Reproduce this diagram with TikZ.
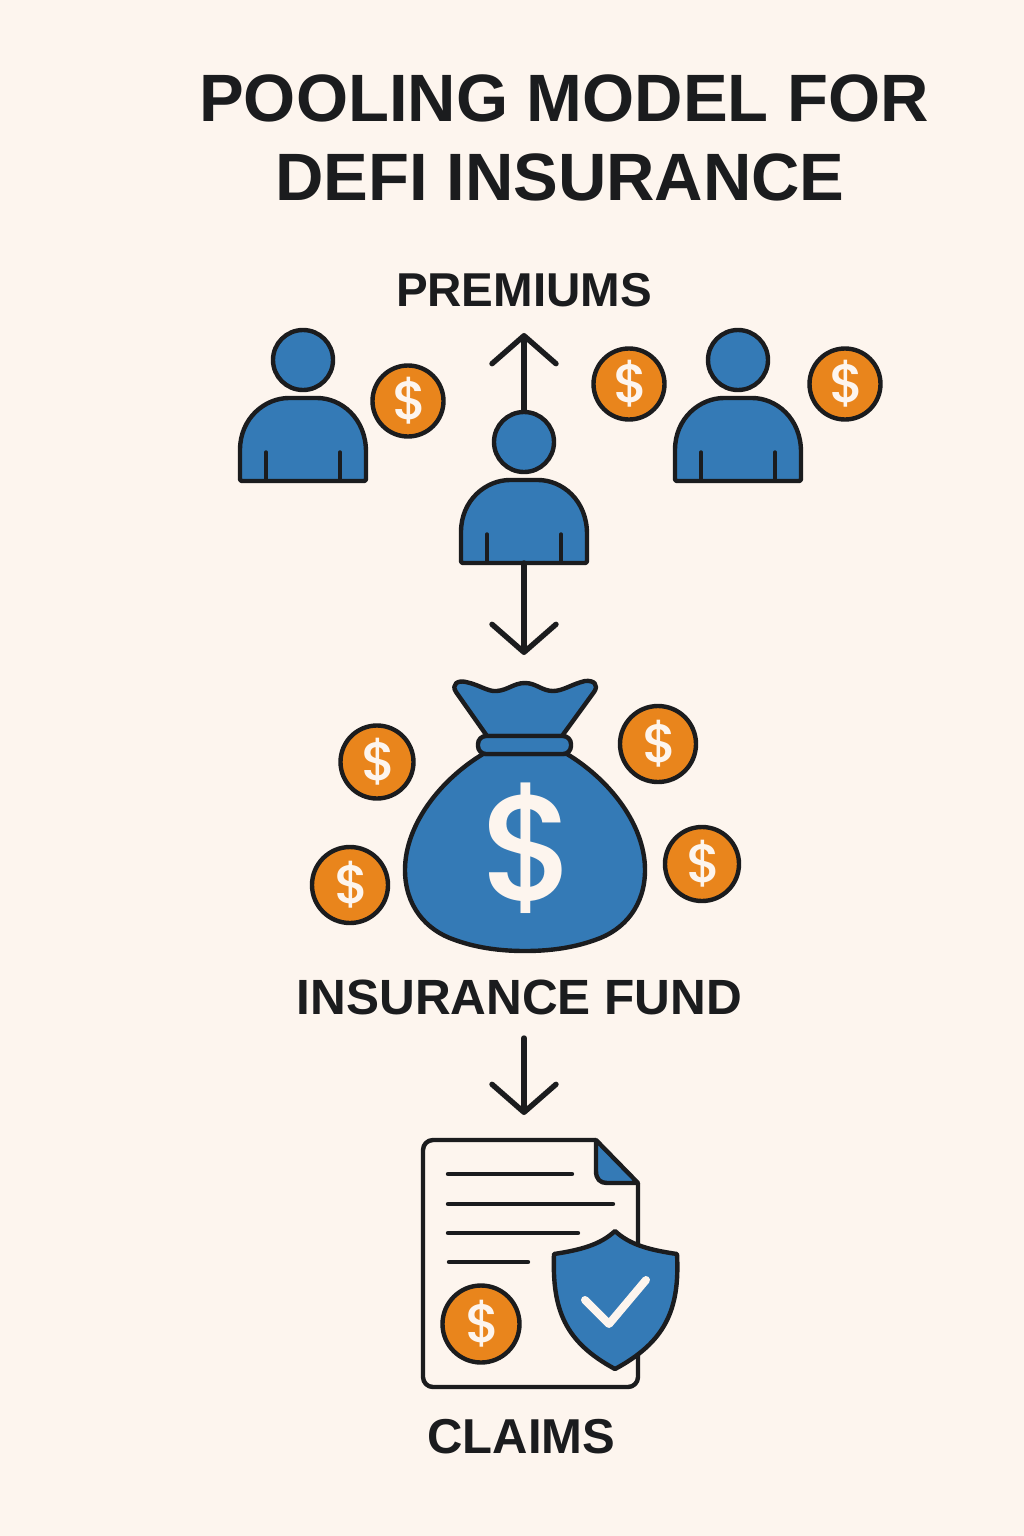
\documentclass[tikz,border=0pt]{standalone}
\usepackage{fontspec}
\setmainfont{Liberation Sans}
\newfontfamily\dollarfont[UprightFont = * Medium]{Poppins}
\usetikzlibrary{arrows.meta}

\definecolor{paper}{HTML}{FDF5EE}
\definecolor{ink}{HTML}{1B1C1E}
\definecolor{fundblue}{HTML}{347AB6}
\definecolor{coinorange}{HTML}{E9851C}

\tikzset{
  outline/.style = {draw = ink, line width = 4.4pt, line join = round},
  head/.style = {outline, shape = circle, fill = fundblue, minimum size = 60pt, inner sep = 0pt},
  coin/.style = {outline, shape = circle, fill = coinorange, minimum size = #1, inner sep = 0pt,
    text = paper, font = \dollarfont\fontsize{54pt}{54pt}\selectfont},
  heading/.style = {anchor = base, text = ink, font = \fontsize{#1}{#1}\selectfont\bfseries},
  flow/.style = {draw = ink, line width = 5.4pt, line cap = round,
    -{Straight Barb[length = 28pt, width = 64pt, round]}},
  textline/.style = {draw = ink, line width = 4.4pt, line cap = round}
}

% the glyph sits a little left of centre in its box
\newcommand{\coinsign}{\kern3.5pt\$}

% head at (#2, #3), named #1, body named #1b
\newcommand{\person}[3]{
  \node[head] at (#2, #3) (#1) {};
  \begin{scope}[shift = {(#2, #3)}]
    \draw[outline, fill = fundblue, rounded corners = 2pt]
      (-63, 121) -- (-63, 92)
      [sharp corners] .. controls (-63, 58) and (-38, 38) .. (-14, 38)
      -- (14, 38) .. controls (38, 38) and (63, 58) .. (63, 92)
      [rounded corners = 2pt] -- (63, 121) -- cycle;
    \draw[draw = ink, line width = 3.4pt, line cap = round]
      (-37, 92) -- (-37, 121)
      (37, 92) -- (37, 121);
    \coordinate (#1b) at (0, 121);
  \end{scope}
}

\begin{document}
\begin{tikzpicture}[x = 1pt, y = -1pt]
  \useasboundingbox[fill = paper] (0, 0) rectangle (1024, 1536);

  % ------------------------------------------------------------------------
  % Title
  \node[heading = 67pt] at (564, 122) (title1) {POOLING MODEL FOR};
  \node[heading = 67pt] at (560, 200) (title2) {DEFI INSURANCE};

  % ------------------------------------------------------------------------
  % Premiums
  \node[heading = 47.5pt] at (524, 306) (premiums) {PREMIUMS};

  \person{left}{303}{360}
  \person{middle}{524}{442}
  \person{right}{738}{360}

  \node[coin = 71pt] at (408, 401) (c1) {\coinsign};
  \node[coin = 71pt] at (629, 384) (c2) {\coinsign};
  \node[coin = 71pt] at (845, 384) (c3) {\coinsign};

  \coordinate (up) at (524, 333);
  \coordinate (down) at (524, 655);

  \draw[flow] (middle) -- (up);
  \draw[flow] (middleb) -- (down);

  % ------------------------------------------------------------------------
  % Fund
  \draw[outline, fill = fundblue]
    (483, 754) .. controls (440, 780) and (405, 825) .. (405, 870)
    .. controls (405, 905) and (425, 930) .. (455, 940)
    .. controls (480, 949) and (505, 951) .. (525, 951)
    .. controls (545, 951) and (570, 949) .. (595, 940)
    .. controls (625, 930) and (645, 905) .. (645, 870)
    .. controls (645, 825) and (610, 780) .. (567, 754) -- cycle;
  \draw[outline, fill = fundblue]
    (487, 736) -- (456, 692)
    .. controls (451, 684) and (458, 680) .. (466, 682)
    .. controls (480, 685) and (488, 692) .. (497, 691)
    .. controls (508, 690) and (514, 683) .. (525, 683)
    .. controls (536, 683) and (542, 691) .. (553, 691)
    .. controls (563, 691) and (572, 684) .. (585, 681)
    .. controls (594, 680) and (599, 685) .. (594, 692)
    -- (562, 736) -- cycle;
  \draw[outline, fill = fundblue, rounded corners = 8pt]
    (478, 736) rectangle (571, 754);

  \node[text = paper, font = \dollarfont\fontsize{150pt}{150pt}\selectfont] at (529, 848) (bigdollar) {\$};

  \node[coin = 73pt] at (377, 762) (c4) {\coinsign};
  \node[coin = 76pt] at (658, 744) (c5) {\coinsign};
  \node[coin = 76pt] at (350, 885) (c6) {\coinsign};
  \node[coin = 74pt] at (702, 864) (c7) {\coinsign};

  \node[heading = 49.5pt] at (519.5, 1014) (fund) {INSURANCE FUND};

  \coordinate (fundout) at (524, 1038);
  \coordinate (claimsin) at (524, 1115);
  \draw[flow] (fundout) -- (claimsin);

  % ------------------------------------------------------------------------
  % Claims
  \draw[outline, rounded corners = 10pt]
    (596, 1140) -- (423, 1140) -- (423, 1387) -- (638, 1387) -- (638, 1183);
  \draw[outline, fill = fundblue]
    (596, 1140) -- (596, 1171) .. controls (596, 1179) and (600, 1183) .. (607, 1183)
    -- (638, 1183) -- cycle;

  \draw[textline] (448, 1174) -- (572, 1174);
  \draw[textline] (448, 1204) -- (613, 1204);
  \draw[textline] (448, 1233) -- (578, 1233);
  \draw[textline] (449, 1262) -- (528, 1262);

  \node[coin = 77pt] at (481, 1324) (c8) {\coinsign};

  \draw[outline, fill = fundblue]
    (615, 1231) .. controls (600, 1245) and (580, 1250) .. (554, 1254)
    .. controls (552, 1310) and (565, 1342) .. (615, 1369)
    .. controls (665, 1342) and (680, 1310) .. (677, 1254)
    .. controls (650, 1250) and (630, 1245) .. (615, 1231) -- cycle;
  \draw[draw = paper, line width = 8pt, line cap = round, line join = round]
    (585, 1300) -- (609, 1324) -- (646, 1280);

  \node[heading = 49pt] at (521.5, 1453) (claims) {CLAIMS};
\end{tikzpicture}
\end{document}
